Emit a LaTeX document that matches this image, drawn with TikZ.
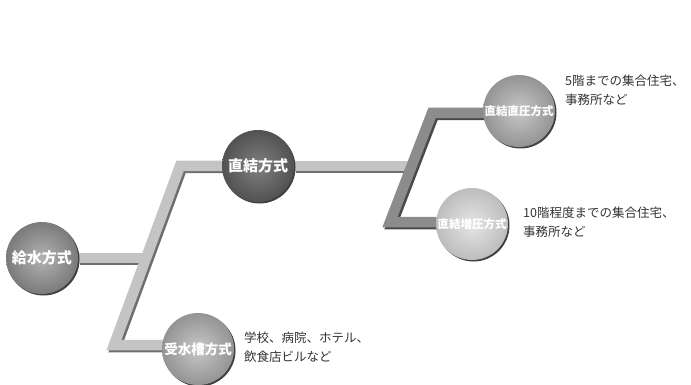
\documentclass[tikz,border=0pt]{standalone}
\usepackage{fontspec}
\setmainfont{Noto Sans CJK JP}
\usetikzlibrary{shadows,backgrounds}
\definecolor{barlight}{HTML}{C4C4C4}
\definecolor{barlightsh}{HTML}{6E6E6E}
\definecolor{bardark}{HTML}{8C8C8C}
\definecolor{bardarksh}{HTML}{4A4A4A}
\definecolor{descgray}{HTML}{333333}
\begin{document}
\begin{tikzpicture}[x=1pt,y=-1pt,
  ball/.style={circle, minimum size=72pt, inner sep=0pt, text=white,
    drop shadow={shadow xshift=1.5pt, shadow yshift=-1.5pt, fill=black!75, opacity=1}},
  desc/.style={anchor=west, align=left, inner sep=0pt, text=descgray,
    font=\fontsize{12.5}{19}\selectfont},
  barlt/.style={line width=10.5pt, draw=barlight, line join=miter},
  barltsh/.style={line width=10.5pt, draw=barlightsh, line join=miter,
    transform canvas={xshift=2pt, yshift=-2pt}},
  bardk/.style={line width=10.5pt, draw=bardark, line join=miter},
  bardksh/.style={line width=10.5pt, draw=bardarksh, line join=miter,
    transform canvas={xshift=2pt, yshift=-2pt}}
]
\useasboundingbox (0,0) rectangle (691,385);

% nodes
\node[ball, inner color=black!30, outer color=black!52,
  font=\fontsize{15}{15}\selectfont\bfseries] (root) at (42,258) {給水方式};
\node[ball, inner color=black!50, outer color=black!68,
  font=\fontsize{15}{15}\selectfont\bfseries] (direct) at (258,166) {直結方式};
\node[ball, inner color=black!22, outer color=black!42,
  font=\fontsize{13.5}{13.5}\selectfont\bfseries] (tank) at (198,349) {受水槽方式};
\node[ball, inner color=black!22, outer color=black!42,
  font=\fontsize{11.5}{11.5}\selectfont\bfseries] (dp) at (519,111) {直結直圧方式};
\node[ball, inner color=black!10, outer color=black!26,
  font=\fontsize{11.5}{11.5}\selectfont\bfseries] (bp) at (472,224) {直結増圧方式};

% junction coordinates
\coordinate (lt) at (180,166);
\coordinate (lb) at (114,345);
\coordinate (jl) at (146,258);
\coordinate (rt) at (432,113);
\coordinate (rb) at (390,222);
\coordinate (jr) at (411,166);

\begin{scope}[on background layer]
  % left bracket
  \draw[barltsh] (root) -- (jl);
  \draw[barltsh] (lt -| direct) -- (lt) -- (lb) -- (lb -| tank);
  \draw[barlt] (root) -- (jl);
  \draw[barlt] (lt -| direct) -- (lt) -- (lb) -- (lb -| tank);
  % right bracket
  \draw[barltsh] (direct) -- (jr);
  \draw[bardksh] (rt -| dp) -- (rt) -- (rb) -- (rb -| bp);
  \draw[barlt] (direct) -- (jr);
  \draw[bardk] (rt -| dp) -- (rt) -- (rb) -- (rb -| bp);
\end{scope}

% descriptions
\node[desc] (ddp) at (565,90) {5階までの集合住宅、\\事務所など};
\node[desc] (dbp) at (523,222) {10階程度までの集合住宅、\\事務所など};
\node[desc] (dtank) at (244,347) {学校、病院、ホテル、\\飲食店ビルなど};
\end{tikzpicture}
\end{document}
